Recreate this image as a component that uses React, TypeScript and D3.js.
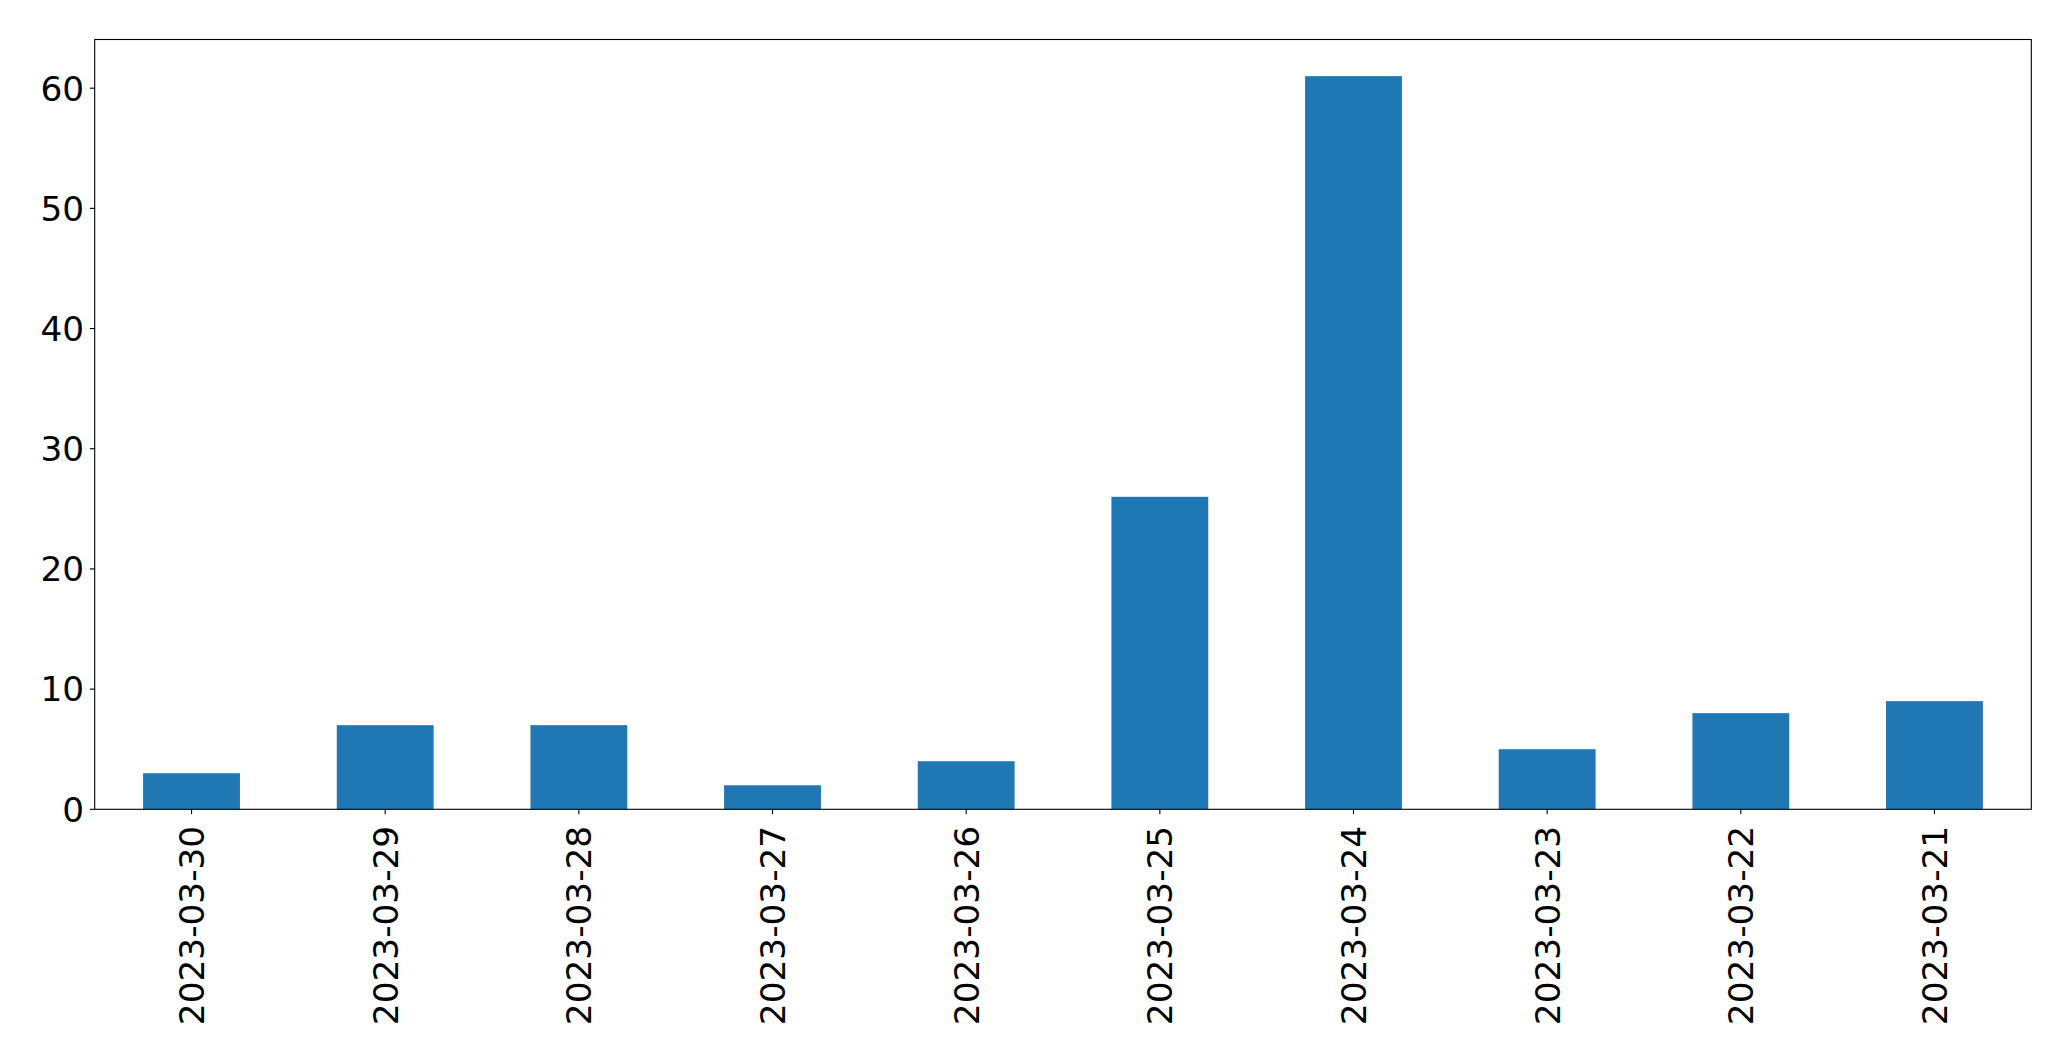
import React from "react";
import * as d3 from "d3";

const categories = ["2023-03-30", "2023-03-29", "2023-03-28", "2023-03-27", "2023-03-26", "2023-03-25", "2023-03-24", "2023-03-23", "2023-03-22", "2023-03-21"];
const values = [3, 7, 7, 2, 4, 26, 61, 5, 8, 9];
const yTicks = [0, 10, 20, 30, 40, 50, 60];

const W = 2071;
const H = 1061;
const left = 94.7;
const right = 2031.3;
const top = 39.5;
const bottom = 809.3;

export default function App() {
  const x = d3.scaleBand<string>().domain(categories).range([left, right]).paddingInner(0.5).paddingOuter(0.25);
  const yMax = d3.max(values)! * 1.05;
  const y = d3.scaleLinear().domain([0, yMax]).range([bottom, top]);
  const font = "'DejaVu Sans', sans-serif";
  const fs = 34.3;
  return (
    <div style={{ position: "fixed", left: 0, top: 0, width: W, height: H, background: "#fff" }}>
      <svg width={W} height={H} style={{ display: "block" }}>
        <rect x={0} y={0} width={W} height={H} fill="#fff" />
        {categories.map((c, i) => (
          <rect key={c} x={x(c)} y={y(values[i])} width={x.bandwidth()} height={bottom - y(values[i])} fill="#1f77b4" />
        ))}
        <rect x={left} y={top} width={right - left} height={bottom - top} fill="none" stroke="#000" strokeWidth={1.1} />
        {yTicks.map((t) => (
          <g key={t}>
            <line x1={left - 4.9} x2={left} y1={y(t)} y2={y(t)} stroke="#000" strokeWidth={1.1} />
            <text x={left - 10.5} y={y(t)} dy="0.36em" textAnchor="end" fontFamily={font} fontSize={fs} fill="#000">
              {t}
            </text>
          </g>
        ))}
        {categories.map((c) => {
          const cx = x(c)! + x.bandwidth() / 2;
          return (
            <g key={c}>
              <line x1={cx} x2={cx} y1={bottom} y2={bottom + 4.9} stroke="#000" strokeWidth={1.1} />
              <text
                transform={`translate(${cx},${bottom + 16.5}) rotate(-90)`}
                dy="0.36em"
                textAnchor="end"
                fontFamily={font}
                fontSize={fs}
                fill="#000"
              >
                {c}
              </text>
            </g>
          );
        })}
      </svg>
    </div>
  );
}
